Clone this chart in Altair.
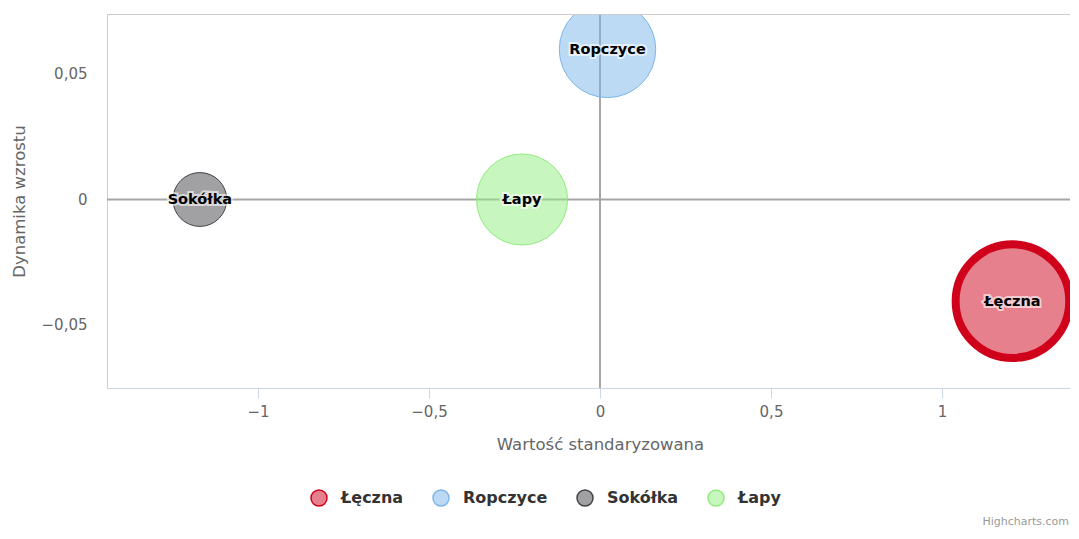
import altair as alt
import pandas as pd

# ---- data ----
names = ["Łęczna", "Ropczyce", "Sokółka", "Łapy"]
x_vals = [1.206, 0.022, -1.17, -0.228]          # Wartość standaryzowana
y_vals = [-0.0405, 0.0598, 0.0, 0.0]            # Dynamika wzrostu
z_vals = [12.9, 9.3, 2.9, 8.3]                  # bubble size value

x_ticks = [-1, -0.5, 0, 0.5, 1]
y_ticks = [-0.05, 0, 0.05]

line_colors = ["#d0021b", "#7cb5ec", "#434348", "#90ed7d"]
fill_colors = ["rgba(208,2,27,0.5)", "rgba(124,181,236,0.5)",
               "rgba(67,67,72,0.5)", "rgba(144,237,125,0.5)"]

df = pd.DataFrame({"name": names, "x": x_vals, "y": y_vals, "z": z_vals})

W, H = 963, 374
FONT = "DejaVu Sans"

xs = alt.Scale(domain=[-1.4415, 1.3743], nice=False, zero=False)
ys = alt.Scale(domain=[-0.0751, 0.0739], nice=False, zero=False)

label_expr = "replace(format(datum.value, '~g'), '.', ',')"

X = alt.X("x:Q", scale=xs, axis=alt.Axis(
    values=x_ticks, labelExpr=label_expr, grid=False,
    domainColor="#ccd6eb", tickColor="#ccd6eb", tickSize=10,
    labelColor="#666666", labelFontSize=15, labelPadding=6, labelFont=FONT,
    title="Wartość standaryzowana", titleColor="#666666", titleFontSize=16.5,
    titleFontWeight="normal", titleFont=FONT, titleX=493, titleY=61,
    titleBaseline="alphabetic", titleAlign="center"))

Y = alt.Y("y:Q", scale=ys, axis=alt.Axis(
    values=y_ticks, labelExpr=label_expr, grid=False, ticks=False,
    domainColor="#cccccc", labelColor="#666666", labelFontSize=15,
    labelPadding=20, labelFont=FONT,
    title="Dynamika wzrostu", titleColor="#666666", titleFontSize=16.5,
    titleFontWeight="normal", titleFont=FONT, titleAngle=270, titleX=-83,
    titleY=187, titleBaseline="alphabetic", titleAlign="center"))

zero_v = alt.Chart(pd.DataFrame({"x": [0]})).mark_rule(
    color="#a6a6a6", strokeWidth=2).encode(x=X)
zero_h = alt.Chart(pd.DataFrame({"y": [0]})).mark_rule(
    color="#a6a6a6", strokeWidth=2).encode(y=Y)

bubbles = alt.Chart(df).mark_circle(opacity=1, clip=True).encode(
    x=X, y=Y,
    size=alt.Size("z:Q", scale=alt.Scale(domain=[0, 12.9], range=[0, 12900]),
                  legend=None),
    fill=alt.Fill("name:N", scale=alt.Scale(domain=names, range=fill_colors),
                  legend=alt.Legend(title=None)),
    stroke=alt.Stroke("name:N", scale=alt.Scale(domain=names, range=line_colors),
                      legend=alt.Legend(title=None)),
    strokeWidth=alt.condition("datum.name == 'Łęczna'", alt.value(8), alt.value(1)),
)

label_glow = alt.Chart(df).mark_text(
    font=FONT, fontSize=14.5, fontWeight="bold", fill="white", stroke="white",
    strokeWidth=4, opacity=0.6, baseline="middle", dy=1).encode(
    x=X, y=Y, text="name:N")
labels = alt.Chart(df).mark_text(
    font=FONT, fontSize=14.5, fontWeight="bold", color="#000000",
    baseline="middle", dy=1).encode(x=X, y=Y, text="name:N")

credit = alt.Chart(pd.DataFrame({"t": ["Highcharts.com"]})).mark_text(
    font=FONT, fontSize=11, color="#999999", align="right", baseline="alphabetic"
).encode(x=alt.value(W - 1), y=alt.value(511), text="t:N")

top_border = alt.Chart(pd.DataFrame({"a": [0]})).mark_rule(
    color="#cccccc", strokeWidth=1).encode(
    x=alt.value(0), x2=alt.value(W), y=alt.value(0.5))

chart = alt.layer(
    zero_v, zero_h, bubbles, label_glow, labels, credit, top_border
).properties(
    width=W, height=H,
    autosize=alt.AutoSizeParams(type="none"),
    padding={"left": 99, "top": 6, "right": 0, "bottom": 143},
).configure_view(stroke=None).configure(font=FONT).configure_legend(
    orient="none", legendX=203, legendY=475, direction="horizontal",
    labelFont=FONT, labelFontSize=16, labelFontWeight="bold",
    labelColor="#333333", symbolSize=256, symbolStrokeWidth=1.5,
    symbolType="circle", columnPadding=26, labelOffset=13, padding=0,
)

chart.save("out.html", embed_options={"renderer": "svg", "actions": False})
